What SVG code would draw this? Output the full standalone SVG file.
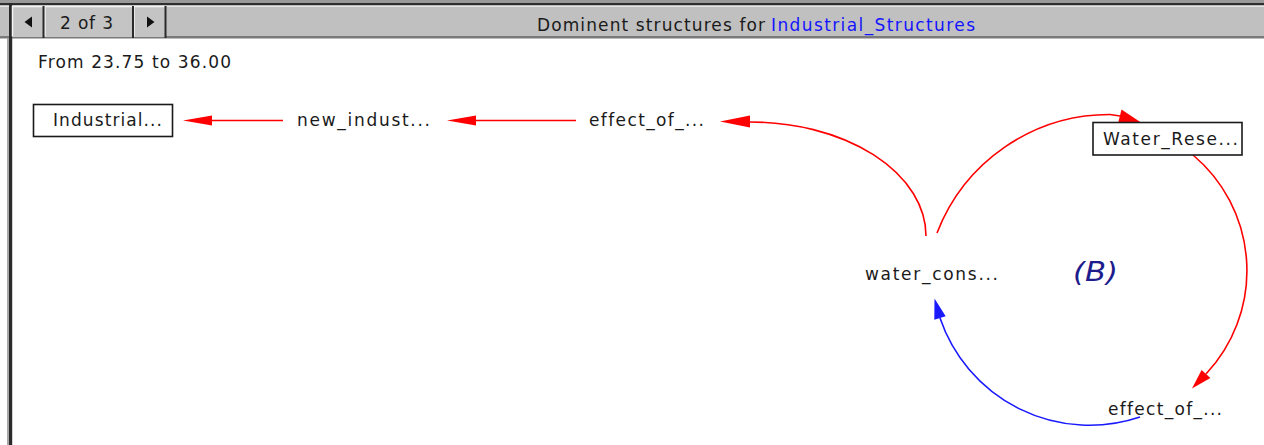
<svg xmlns="http://www.w3.org/2000/svg" width="1264" height="445" viewBox="0 0 1264 445">
<style>
.t{font-family:"DejaVu Sans",Verdana,sans-serif;font-size:17px;fill:#1a1a1a;font-variant-ligatures:none;font-feature-settings:"liga" 0,"clig" 0}
.box{fill:#fff;stroke:#1a1a1a;stroke-width:1.6}
.red{fill:none;stroke:#ff0000;stroke-width:1.6}
.blue{fill:none;stroke:#1a1aff;stroke-width:1.6}
.rh{fill:#ff0000}
.bh{fill:#1a1aff}
.btn{fill:#c4c4c4}
</style>
<rect x="0" y="0" width="1264" height="445" fill="#ffffff"/>
<g id="window">
<rect x="0" y="0" width="1264" height="3" fill="#9a9a9a"/>
<rect x="0" y="3" width="1264" height="2.5" fill="#2e2e2e"/>
<rect x="0" y="5.5" width="1264" height="1.5" fill="#e4e4e4"/>
<rect x="0" y="7" width="1264" height="29" fill="#c0c0c0"/>
<rect x="0" y="36" width="1264" height="2.5" fill="#7a7a7a"/>
<rect x="7" y="38" width="2" height="407" fill="#a8a8a8"/>
<rect x="9" y="3" width="3.2" height="442" fill="#2a2a2a"/>
</g>
<g id="nav">
<rect class="btn" x="12.5" y="6" width="30.5" height="31"/>
<rect class="btn" x="45" y="6" width="87" height="31"/>
<rect class="btn" x="134" y="6" width="31" height="31"/>
<path d="M12.5 36.5V6.5H43M45 36.5V6.5H132M134 36.5V6.5H165" fill="none" stroke="#f4f4f4" stroke-width="1.5"/>
<path d="M43.5 6V38M133 6V38M165.5 6V38" fill="none" stroke="#2a2a2a" stroke-width="2"/>
<polygon points="24.5,22 32,16.5 32,27.5" fill="#111"/>
<polygon points="154.5,22 147,16.5 147,27.5" fill="#111"/>
<text class="t" x="60" y="28.5" textLength="53" lengthAdjust="spacing">2 of 3</text>
</g>
<g id="title">
<text class="t" x="537" y="31" textLength="228" lengthAdjust="spacing">Dominent structures for</text>
<text class="t" x="771" y="31" textLength="204" lengthAdjust="spacing" style="fill:#1414ff">Industrial_Structures</text>
<text class="t" x="38" y="67.5" textLength="193" lengthAdjust="spacing">From 23.75 to 36.00</text>
</g>
<g id="connectors">
<path class="red" d="M283 120.5H210"/>
<polygon class="rh" points="183,120.5 212,115.5 212,125.5"/>
<path class="red" d="M576 120.5H474"/>
<polygon class="rh" points="447,120.5 476,115.5 476,125.5"/>
<path class="red" d="M926 236 A176 114 0 0 0 748 122"/>
<polygon class="rh" points="720,121.5 750,115.5 750,127.5"/>
<path class="red" d="M937 233 A185 185 0 0 1 1110 114.5 L1120 116"/>
<polygon class="rh" points="1121.5,109.5 1141,122.5 1118,123.5"/>
<path class="red" d="M1193 155 A151 151 0 0 1 1206 374"/>
<polygon class="rh" points="1192,388.6 1210.4,378.1 1201.6,369.9"/>
<path class="blue" d="M1140 417 A158 158 0 0 1 940 318"/>
<polygon class="bh" points="934.5,298.5 945.7,316.2 934.3,319.8"/>
</g>
<g id="node-industrial">
<rect class="box" x="33.5" y="104.5" width="139" height="32"/>
<text class="t" x="53" y="125.5" textLength="109" lengthAdjust="spacing">Industrial...</text>
</g>
<g id="node-new-indust">
<text class="t" x="297" y="125.5" textLength="133" lengthAdjust="spacing">new_indust...</text>
</g>
<g id="node-effect-top">
<text class="t" x="589" y="125.5" textLength="115" lengthAdjust="spacing">effect_of_...</text>
</g>
<g id="node-water-rese">
<rect class="box" x="1093" y="122.5" width="149" height="32.5"/>
<text class="t" x="1103" y="145" textLength="135" lengthAdjust="spacing">Water_Rese...</text>
</g>
<g id="node-water-cons">
<text class="t" x="865" y="280" textLength="133" lengthAdjust="spacing">water_cons...</text>
</g>
<g id="node-effect-bottom">
<text class="t" x="1108" y="415" textLength="114" lengthAdjust="spacing">effect_of_...</text>
</g>
<g id="loop-label">
<text x="1073" y="281" textLength="45" lengthAdjust="spacingAndGlyphs" style="font-family:'DejaVu Sans',Verdana,sans-serif;font-style:italic;font-size:26px;fill:#1c1c8c">(B)</text>
</g>
</svg>
